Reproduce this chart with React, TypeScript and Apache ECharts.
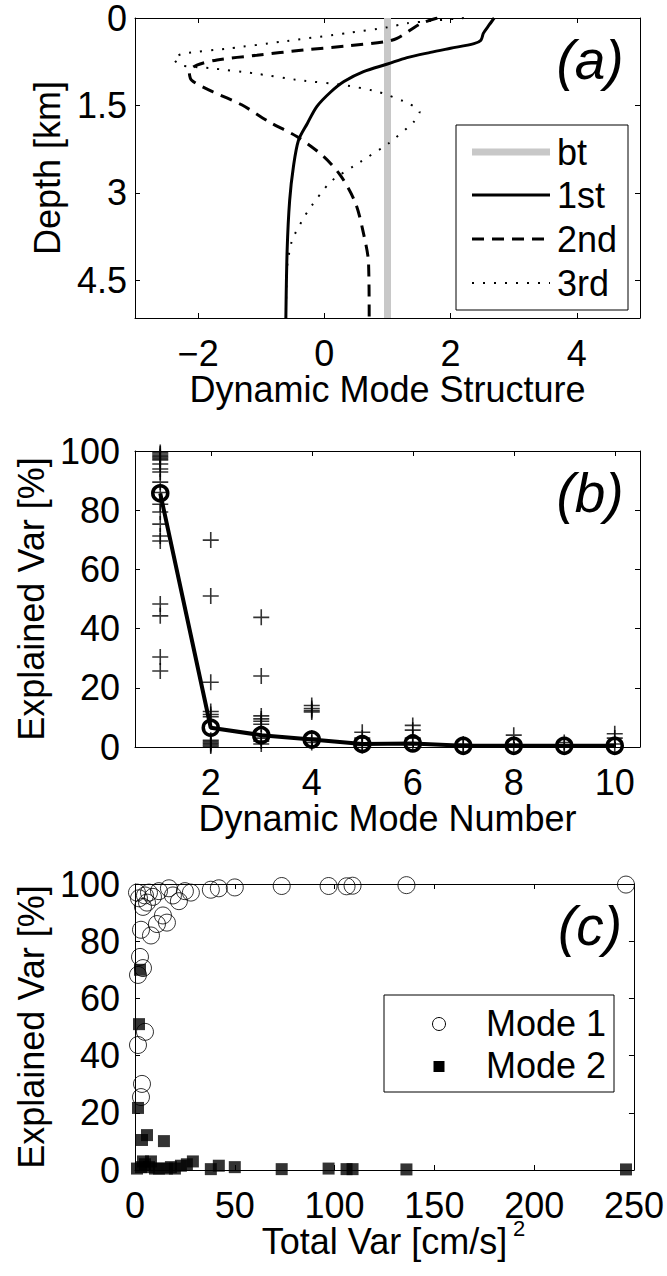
import React, { useEffect, useRef } from "react";
import * as echarts from "echarts";

const FONT = "'Liberation Sans', Arial, Helvetica, sans-serif";
const FS = 36;

// ---------- Panel (a): dynamic mode structure vs depth ----------
const btValue = [1, 1];
const btDepth = [0, 5.15];

const mode1stValue = [2.69, 2.61, 2.52, 2.48, 2.37, 2.0, 1.68, 1.31, 1.0, 0.62, 0.31, 0.1, -0.12, -0.27, -0.41, -0.49, -0.55, -0.59, -0.61];
const mode1stDepth = [0, 0.12, 0.26, 0.38, 0.44, 0.52, 0.59, 0.68, 0.79, 0.92, 1.09, 1.27, 1.52, 1.81, 2.1, 2.55, 3.13, 3.99, 5.15];

const mode2ndValue = [1.79, 1.52, 1.15, 0.94, 0.36, -0.33, -1.07, -1.7, -2.02, -2.14, -2.1, -1.76, -1.31, -0.88, -0.43, -0.02, 0.26, 0.49, 0.61, 0.7, 0.71];
const mode2ndDepth = [0, 0.1, 0.35, 0.41, 0.48, 0.55, 0.64, 0.72, 0.81, 0.92, 1.07, 1.27, 1.49, 1.78, 2.04, 2.37, 2.71, 3.17, 3.65, 4.21, 5.15];

const mode3rdValue = [2.21, 1.31, 1.0, 0.36, -0.7, -1.49, -2.23, -2.39, -2.29, -1.81, -1.12, -0.38, 0.31, 0.86, 1.34, 1.51, 1.42, 1.02, 0.57, 0.1, -0.27, -0.51, -0.59, -0.61];
const mode3rdDepth = [0, 0.09, 0.16, 0.26, 0.41, 0.52, 0.61, 0.69, 0.81, 0.86, 0.95, 1.07, 1.15, 1.27, 1.47, 1.61, 1.78, 2.15, 2.47, 2.81, 3.33, 3.81, 4.27, 5.15];

const aXTicks = [-2, 0, 2, 4];
const aYTicks = [0, 1.5, 3, 4.5];

// ---------- Panel (b): explained variance vs mode number ----------
const modeNumbers = [1, 2, 3, 4, 5, 6, 7, 8, 9, 10];
const meanExplained = [85.7, 6.5, 4, 2.5, 1, 1.2, 0.4, 0.4, 0.4, 0.4];
const stationVarMode1 = [99.5, 99, 98.5, 98, 97.5, 97, 95.6, 93.9, 92.9, 89.5, 86, 82, 79.4, 75.3, 71.3, 69.6, 48.3, 44.3, 30.4, 25.7];
const stationVarMode2 = [69.9, 51, 21.9, 12, 11, 10.2, 2.3, 1.8, 1.3, 0.8, 0.3];
const stationVarMode3 = [43.8, 24, 10.5, 9.5, 8.7, 7.7, 3, 2, 1];
const stationVarMode4 = [14, 13, 12.3, 11.8, 3, 1.5];
const stationVarMode5 = [5, 3, 1, 0.5];
const stationVarMode6 = [7.3, 5.7, 3, 1];
const stationVarMode7 = [1, 0.5];
const stationVarMode8 = [4, 1];
const stationVarMode9 = [1.5, 0.5];
const stationVarMode10 = [4.5, 3, 1];
const stationVarByMode = [
  stationVarMode1, stationVarMode2, stationVarMode3, stationVarMode4, stationVarMode5,
  stationVarMode6, stationVarMode7, stationVarMode8, stationVarMode9, stationVarMode10,
];
const bXTicks = [2, 4, 6, 8, 10];

// ---------- Panel (c): explained variance vs total variance ----------
const mode1TotalVar = [1.5, 4, 5, 1.5, 3.5, 3, 1, 2, 2.5, 3, 4, 5, 6, 7, 8, 9, 11, 12, 14, 16, 17, 19, 22, 25, 28, 38, 42, 50, 73.5, 97, 106, 109, 136, 246];
const mode1Explained = [68.2, 70.6, 48.3, 43.7, 30.1, 25.5, 97, 95, 74.5, 84, 92, 96, 93.5, 97, 82, 95.5, 86, 97.5, 89, 86.5, 98.5, 96, 94, 97.5, 97, 98, 98.5, 98.8, 99.3, 99.3, 99.2, 99.4, 99.6, 99.8];
const mode2TotalVar = [1, 1.5, 2, 2.5, 3, 3.5, 4, 5, 6, 7, 8, 10, 12, 14.5, 16, 18, 20, 23, 26, 29, 38, 42, 50, 73.5, 97, 106, 109, 136, 246];
const mode2Explained = [0.5, 21.7, 51, 70, 1, 10.5, 3, 2, 12.2, 1, 3, 0.5, 0.5, 10.1, 0.5, 1, 0.5, 1.5, 2, 3, 0.3, 1.5, 1, 0.3, 0.5, 0.3, 0.3, 0.2, 0.2];

const PLUS = "path://M45,0H55V45H100V55H55V100H45V55H0V45H45Z";

const fmtMinus = (v: number) => (v < 0 ? "\u2212" + Math.abs(v) : String(v));

function baseAxis(extra: any) {
  return {
    type: "value",
    axisLine: { show: true, onZero: false, lineStyle: { color: "#000", width: 1 } },
    axisTick: { show: true, inside: true, length: 5, lineStyle: { color: "#000", width: 1 } },
    splitLine: { show: false },
    axisLabel: { color: "#000", fontSize: FS, fontFamily: FONT },
    nameTextStyle: { color: "#000", fontSize: FS, fontFamily: FONT },
    ...extra,
  };
}

const tick = (vals?: number[]) => ({
  show: true, inside: true, length: 5, lineStyle: { color: "#000", width: 1 },
  ...(vals ? { customValues: vals } : {}),
});

export default function App() {
  const ref = useRef<HTMLDivElement>(null);
  useEffect(() => {
    document.body.style.margin = "0";
    const chart = echarts.init(ref.current!, null, { renderer: "svg" });

    const plusData: number[][] = [];
    stationVarByMode.forEach((arr, i) => arr.forEach((v) => plusData.push([modeNumbers[i], v])));

    const label = (extra: any) => ({ color: "#000", fontSize: FS, fontFamily: FONT, ...extra });
    const txt = (text: string, x: number, y: number, extra: any = {}) => ({
      type: "text", z: 61,
      style: { text, x, y, fill: "#000", fontSize: FS, fontFamily: FONT, textVerticalAlign: "middle", verticalAlign: "middle", ...extra },
    });

    const option: any = {
      animation: false,
      textStyle: { fontFamily: FONT },
      grid: [
        { left: 135, top: 18, width: 505, height: 300 },
        { left: 135, top: 451, width: 505, height: 296 },
        { left: 135, top: 884, width: 501, height: 286 },
      ],
      xAxis: [
        baseAxis({
          gridIndex: 0, position: "bottom", min: -3, max: 5,
          axisTick: tick(aXTicks),
          axisLabel: label({ margin: 17, customValues: aXTicks, formatter: fmtMinus }),
          name: "Dynamic Mode Structure", nameLocation: "middle", nameGap: 46,
        }),
        baseAxis({ gridIndex: 0, position: "top", min: -3, max: 5, axisTick: tick(aXTicks), axisLabel: { show: false } }),
        baseAxis({
          gridIndex: 1, position: "bottom", min: 0.5, max: 10.5,
          axisTick: tick(bXTicks),
          axisLabel: label({ margin: 17, customValues: bXTicks }),
          name: "Dynamic Mode Number", nameLocation: "middle", nameGap: 46,
        }),
        baseAxis({ gridIndex: 1, position: "top", min: 0.5, max: 10.5, axisTick: tick(bXTicks), axisLabel: { show: false } }),
        baseAxis({
          gridIndex: 2, position: "bottom", min: 0, max: 250, interval: 50,
          axisTick: tick(), axisLabel: label({ margin: 17 }),
          name: "Total Var [cm/s]", nameLocation: "middle", nameGap: 46,
        }),
        baseAxis({ gridIndex: 2, position: "top", min: 0, max: 250, interval: 50, axisTick: tick(), axisLabel: { show: false } }),
      ],
      yAxis: [
        baseAxis({
          gridIndex: 0, position: "left", min: 0, max: 5.15, inverse: true,
          axisTick: tick(aYTicks),
          axisLabel: label({ margin: 8, customValues: aYTicks }),
          name: "Depth [km]", nameLocation: "middle", nameGap: 70, nameRotate: 90,
        }),
        baseAxis({ gridIndex: 0, position: "right", min: 0, max: 5.15, inverse: true, axisTick: tick(aYTicks), axisLabel: { show: false } }),
        baseAxis({
          gridIndex: 1, position: "left", min: 0, max: 100, interval: 20,
          axisTick: tick(), axisLabel: label({ margin: 15 }),
          name: "Explained Var [%]", nameLocation: "middle", nameGap: 86, nameRotate: 90,
        }),
        baseAxis({ gridIndex: 1, position: "right", min: 0, max: 100, interval: 20, axisTick: tick(), axisLabel: { show: false } }),
        baseAxis({
          gridIndex: 2, position: "left", min: 0, max: 100, interval: 20,
          axisTick: tick(), axisLabel: label({ margin: 15 }),
          name: "Explained Var [%]", nameLocation: "middle", nameGap: 86, nameRotate: 90,
        }),
        baseAxis({ gridIndex: 2, position: "right", min: 0, max: 100, interval: 20, axisTick: tick(), axisLabel: { show: false } }),
      ],
      series: [
        {
          name: "bt", type: "line", xAxisIndex: 0, yAxisIndex: 0, symbol: "none",
          data: btDepth.map((d, i) => [btValue[i], d]),
          lineStyle: { color: "#c8c8c8", width: 7 }, z: 2,
        },
        {
          name: "1st", type: "line", xAxisIndex: 0, yAxisIndex: 0, symbol: "none", smooth: 0.3,
          data: mode1stDepth.map((d, i) => [mode1stValue[i], d]),
          lineStyle: { color: "#000", width: 3 }, z: 3,
        },
        {
          name: "2nd", type: "line", xAxisIndex: 0, yAxisIndex: 0, symbol: "none", smooth: 0.3,
          data: mode2ndDepth.map((d, i) => [mode2ndValue[i], d]),
          lineStyle: { color: "#000", width: 3, type: [12, 8] }, z: 3,
        },
        {
          name: "3rd", type: "line", xAxisIndex: 0, yAxisIndex: 0, symbol: "none", smooth: 0.2,
          data: mode3rdDepth.map((d, i) => [mode3rdValue[i], d]),
          lineStyle: { color: "#000", width: 2, type: [2, 9] }, z: 3,
        },
        {
          name: "stations", type: "scatter", xAxisIndex: 2, yAxisIndex: 2,
          symbol: PLUS, symbolSize: 16, data: plusData,
          itemStyle: { color: "#000" }, z: 2,
        },
        {
          name: "mean", type: "line", xAxisIndex: 2, yAxisIndex: 2,
          data: modeNumbers.map((n, i) => [n, meanExplained[i]]),
          symbol: "circle", symbolSize: 15, showSymbol: true,
          itemStyle: { color: "rgba(0,0,0,0)", borderColor: "#000", borderWidth: 3.5 },
          lineStyle: { color: "#000", width: 4 }, z: 4,
        },
        {
          name: "Mode 1", type: "scatter", xAxisIndex: 4, yAxisIndex: 4,
          symbol: "circle", symbolSize: 17,
          data: mode1TotalVar.map((x, i) => [x, mode1Explained[i]]),
          itemStyle: { color: "rgba(0,0,0,0)", borderColor: "#000", borderWidth: 1 }, z: 3,
        },
        {
          name: "Mode 2", type: "scatter", xAxisIndex: 4, yAxisIndex: 4,
          symbol: "rect", symbolSize: 12,
          data: mode2TotalVar.map((x, i) => [x, mode2Explained[i]]),
          itemStyle: { color: "#000" }, z: 4,
        },
      ],
      graphic: [
        // panel labels
        txt("(a)", 590, 60, { fontSize: 55, fontStyle: "italic", textAlign: "center", align: "center" }),
        txt("(b)", 590, 493, { fontSize: 55, fontStyle: "italic", textAlign: "center", align: "center" }),
        txt("(c)", 590, 926, { fontSize: 55, fontStyle: "italic", textAlign: "center", align: "center" }),
        // legend (a)
        { type: "rect", z: 60, shape: { x: 456, y: 125, width: 172, height: 185 }, style: { fill: "#fff", stroke: "#000", lineWidth: 1 } },
        { type: "line", z: 61, shape: { x1: 472, y1: 152, x2: 550, y2: 152 }, style: { stroke: "#c8c8c8", lineWidth: 7 } },
        { type: "line", z: 61, shape: { x1: 472, y1: 195, x2: 550, y2: 195 }, style: { stroke: "#000", lineWidth: 3 } },
        { type: "line", z: 61, shape: { x1: 472, y1: 239, x2: 550, y2: 239 }, style: { stroke: "#000", lineWidth: 3, lineDash: [12, 8] } },
        { type: "line", z: 61, shape: { x1: 472, y1: 283, x2: 550, y2: 283 }, style: { stroke: "#000", lineWidth: 2, lineDash: [2, 9] } },
        txt("bt", 557, 152),
        txt("1st", 557, 195),
        txt("2nd", 557, 239),
        txt("3rd", 557, 283),
        // legend (c)
        { type: "rect", z: 60, shape: { x: 384, y: 995, width: 230, height: 97 }, style: { fill: "#fff", stroke: "#000", lineWidth: 1 } },
        { type: "circle", z: 61, shape: { cx: 439, cy: 1024, r: 6.5 }, style: { fill: "#fff", stroke: "#000", lineWidth: 1 } },
        { type: "rect", z: 61, shape: { x: 433.5, y: 1061, width: 11, height: 11 }, style: { fill: "#000" } },
        txt("Mode 1", 486, 1023),
        txt("Mode 2", 486, 1065),
        // superscript of x label (c)
        txt("2", 513, 1228, { fontSize: 22 }),
      ],
    };
    chart.setOption(option);
    return () => chart.dispose();
  }, []);
  return <div ref={ref} style={{ width: 667, height: 1276 }} />;
}
